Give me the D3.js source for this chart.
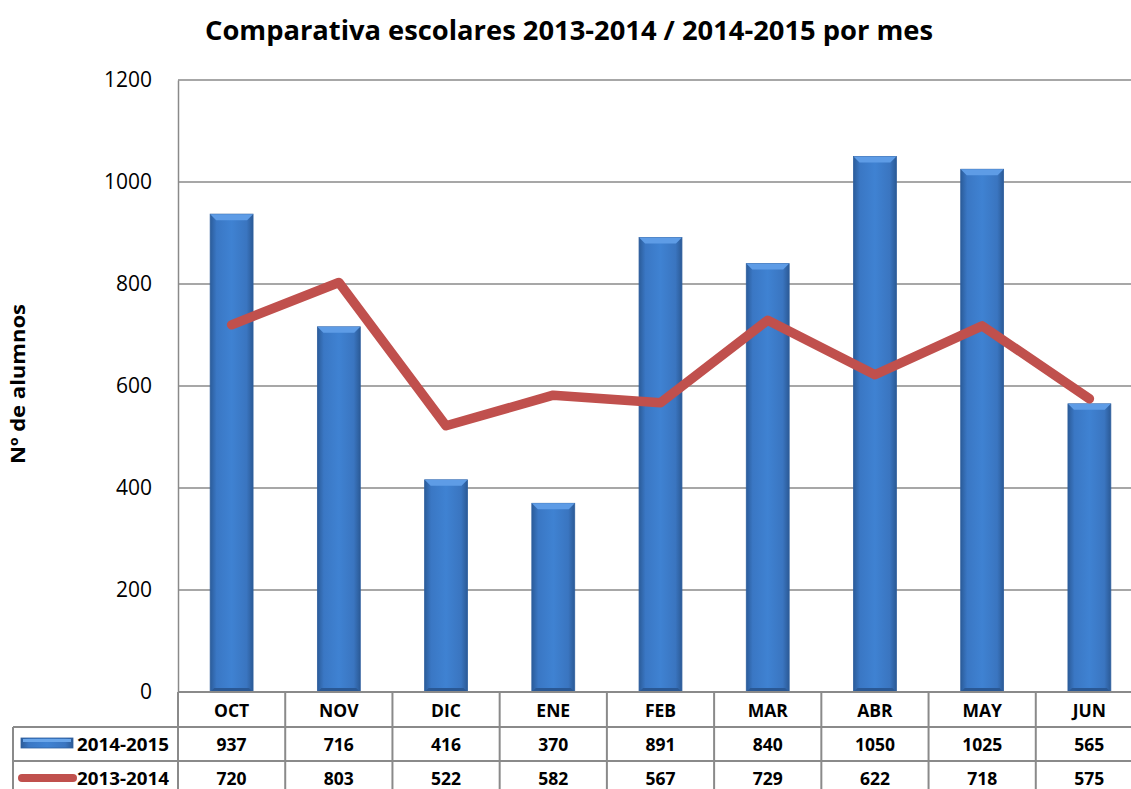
<!DOCTYPE html>
<html>
<head>
<meta charset="utf-8">
<script src="https://cdn.jsdelivr.net/npm/d3@7"></script>
<style>
  body { margin: 0; background: #fff; }
  svg { display: block; font-family: "Open Sans", Lato, sans-serif; }
</style>
</head>
<body>
<div id="chart"></div>
<script>
// data
var months = ["OCT", "NOV", "DIC", "ENE", "FEB", "MAR", "ABR", "MAY", "JUN"];
var curso1415 = [937, 716, 416, 370, 891, 840, 1050, 1025, 565];
var curso1314 = [720, 803, 522, 582, 567, 729, 622, 718, 575];
var yTicks = [0, 200, 400, 600, 800, 1000, 1200];

var W = 1131, H = 789;
var plotL = 178, plotR = 1143, plotT = 80, plotB = 692;

var svg = d3.select("#chart").append("svg")
  .attr("width", W).attr("height", H);

// gradient for the bars (darker sides)
var defs = svg.append("defs");
var grad = defs.append("linearGradient").attr("id", "barGrad")
  .attr("x1", "0%").attr("x2", "100%").attr("y1", "0%").attr("y2", "0%");
grad.append("stop").attr("offset", "0%").attr("stop-color", "#2b5c9a");
grad.append("stop").attr("offset", "15%").attr("stop-color", "#3a77c4");
grad.append("stop").attr("offset", "50%").attr("stop-color", "#3f82d2");
grad.append("stop").attr("offset", "85%").attr("stop-color", "#3a75c0");
grad.append("stop").attr("offset", "100%").attr("stop-color", "#2b5a96");

var x = d3.scaleBand().domain(months).range([plotL, plotR]).paddingInner(0.6).paddingOuter(0.3);
var xb = d3.scaleBand().domain(months).range([plotL, plotR]);
var y = d3.scaleLinear().domain([0, 1200]).range([plotB, plotT]);

// title
svg.append("text")
  .attr("x", 569).attr("y", 40)
  .attr("text-anchor", "middle")
  .attr("font-size", 26).attr("font-weight", "bold")
  .attr("textLength", 728).attr("lengthAdjust", "spacingAndGlyphs")
  .text("Comparativa escolares 2013-2014 / 2014-2015 por mes");

// gridlines
svg.append("g").selectAll("line").data(yTicks.slice(1)).enter().append("line")
  .attr("x1", plotL).attr("x2", W)
  .attr("y1", function(d){ return y(d); }).attr("y2", function(d){ return y(d); })
  .attr("stroke", "#8a8a8a").attr("stroke-width", 1.5);

// y axis
var yAxis = svg.append("g")
  .attr("transform", "translate(" + plotL + ",0)")
  .call(d3.axisLeft(y).tickValues(yTicks).tickFormat(d3.format("d")).tickSize(0).tickPadding(26));
yAxis.select(".domain").attr("stroke", "#8a8a8a").attr("stroke-width", 1.5);
yAxis.selectAll("text").attr("font-size", 21).attr("fill", "#000")
  .attr("font-family", "'Open Sans', sans-serif");

// y label
svg.append("text")
  .attr("transform", "translate(25,384) rotate(-90)")
  .attr("text-anchor", "middle")
  .attr("font-size", 20).attr("font-weight", "bold")
  .attr("textLength", 160).attr("lengthAdjust", "spacingAndGlyphs")
  .text("Nº de alumnos");

// bars
var bars = svg.append("g").selectAll("g").data(curso1415).enter().append("g");
bars.append("rect")
  .attr("x", function(d, i){ return x(months[i]); })
  .attr("y", function(d){ return y(d); })
  .attr("width", x.bandwidth())
  .attr("height", function(d){ return plotB - y(d); })
  .attr("fill", "url(#barGrad)")
  .attr("stroke", "#2f5f9e").attr("stroke-width", 0.8);
// bevel on top of each bar
bars.append("path")
  .attr("d", function(d, i){
    var x0 = x(months[i]), x1 = x0 + x.bandwidth(), y0 = y(d), b = 6;
    return "M" + x0 + "," + y0 + "L" + x1 + "," + y0 + "L" + (x1 - b) + "," + (y0 + b) +
      "L" + (x0 + b) + "," + (y0 + b) + "Z";
  })
  .attr("fill", "#5e9ce6");
bars.append("path")
  .attr("d", function(d, i){
    var x0 = x(months[i]), x1 = x0 + x.bandwidth(), b = 4;
    return "M" + x0 + "," + plotB + "L" + x1 + "," + plotB + "L" + (x1 - b) + "," + (plotB - b) +
      "L" + (x0 + b) + "," + (plotB - b) + "Z";
  })
  .attr("fill", "#2a5894");

// line series
var line = d3.line()
  .x(function(d, i){ return xb(months[i]) + xb.bandwidth() / 2; })
  .y(function(d){ return y(d); });
svg.append("path")
  .datum(curso1314)
  .attr("d", line)
  .attr("fill", "none")
  .attr("stroke", "#c0504d").attr("stroke-width", 9.5)
  .attr("stroke-linejoin", "round").attr("stroke-linecap", "round");

// data table
var rowY = [692, 727, 761];
var tableLeft = 13;
var tg = svg.append("g");
var gridColor = "#8a8a8a";
tg.append("line").attr("x1", plotL).attr("x2", W).attr("y1", rowY[0]).attr("y2", rowY[0])
  .attr("stroke", gridColor).attr("stroke-width", 2);
[rowY[1], rowY[2]].forEach(function(yy){
  tg.append("line").attr("x1", tableLeft).attr("x2", W).attr("y1", yy).attr("y2", yy)
    .attr("stroke", gridColor).attr("stroke-width", 2);
});
tg.append("line").attr("x1", tableLeft).attr("x2", tableLeft).attr("y1", rowY[1]).attr("y2", H)
  .attr("stroke", gridColor).attr("stroke-width", 2);
tg.selectAll("line.col").data(months).enter().append("line").attr("class", "col")
  .attr("x1", function(d){ return xb(d); }).attr("x2", function(d){ return xb(d); })
  .attr("y1", rowY[0]).attr("y2", H)
  .attr("stroke", gridColor).attr("stroke-width", 2);

var cellText = function(data, yy){
  tg.selectAll(null).data(data).enter().append("text")
    .attr("x", function(d, i){ return xb(months[i]) + xb.bandwidth() / 2; })
    .attr("y", yy)
    .attr("text-anchor", "middle")
    .attr("font-size", 17.5).attr("font-weight", "bold")
    .text(function(d){ return d; });
};
cellText(months, 717);
cellText(curso1415, 751);
cellText(curso1314, 785);

// legend keys inside the table
tg.append("rect").attr("x", 21).attr("y", 738).attr("width", 52).attr("height", 10)
  .attr("fill", "url(#barGrad)").attr("stroke", "#2f5f9e").attr("stroke-width", 0.8);
tg.append("rect").attr("x", 23).attr("y", 739).attr("width", 48).attr("height", 3)
  .attr("fill", "#6aa6ea");
tg.append("line").attr("x1", 22).attr("x2", 73).attr("y1", 778).attr("y2", 778)
  .attr("stroke", "#c0504d").attr("stroke-width", 8).attr("stroke-linecap", "round");
tg.append("text").attr("x", 77).attr("y", 751).attr("font-size", 17.5).attr("font-weight", "bold")
  .attr("textLength", 92).attr("lengthAdjust", "spacingAndGlyphs")
  .text("2014-2015");
tg.append("text").attr("x", 77).attr("y", 785).attr("font-size", 17.5).attr("font-weight", "bold")
  .attr("textLength", 92).attr("lengthAdjust", "spacingAndGlyphs")
  .text("2013-2014");
</script>
</body>
</html>
